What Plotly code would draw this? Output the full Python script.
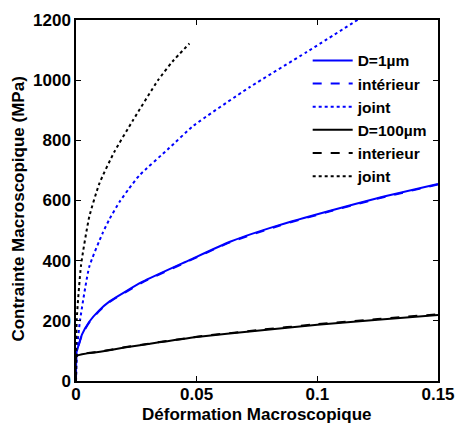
import plotly.graph_objects as go

# D = 1 micron, solid (global response)
strain_d1 = [0, 0.0002, 0.0007, 0.0025, 0.0055, 0.0095, 0.0138, 0.0276, 0.047, 0.0638, 0.0845, 0.1053, 0.126, 0.15]
stress_d1 = [0, 95, 109, 155, 197, 234, 264, 330, 402, 463, 519, 566, 610, 655]

# D = 1 micron, grain interior (hidden under the solid curve)
strain_d1_int = [0, 0.0002, 0.0007, 0.0025, 0.0055, 0.0095, 0.0138, 0.0276, 0.047, 0.0638, 0.0845, 0.1053, 0.126, 0.15]
stress_d1_int = [0, 93, 107, 153, 195, 232, 262, 328, 400, 461, 517, 564, 608, 653]

# D = 1 micron, grain boundary
strain_d1_jt = [0, 0.0005, 0.0017, 0.0055, 0.011, 0.014, 0.018, 0.022, 0.0262, 0.0387, 0.0486, 0.072, 0.0957, 0.118]
stress_d1_jt = [0, 114, 203, 380, 491, 540, 595, 640, 683, 775, 848, 977, 1094, 1207]

# D = 100 micron, solid
strain_d100 = [0, 0.0002, 0.01, 0.02, 0.03, 0.05, 0.075, 0.1, 0.125, 0.15]
stress_d100 = [0, 83, 97, 111, 123, 146, 167, 187, 204, 219]

# D = 100 micron, grain interior
strain_d100_int = [0, 0.0002, 0.01, 0.02, 0.03, 0.05, 0.075, 0.1, 0.125, 0.15]
stress_d100_int = [0, 84, 98, 112, 124, 147, 169, 189, 206, 222]

# D = 100 micron, grain boundary
strain_d100_jt = [0, 0.0003, 0.0021, 0.0055, 0.0097, 0.0159, 0.0235, 0.034, 0.04, 0.047]
stress_d100_jt = [0, 203, 386, 546, 657, 762, 865, 1000, 1062, 1122]

BLUE = '#0000ff'
BLACK = '#000000'
FONT = 'Liberation Sans, Arial, Helvetica, sans-serif'

series = [
    ('D=1µm', strain_d1, stress_d1, BLUE, 'solid'),
    ('intérieur', strain_d1_int, stress_d1_int, BLUE, 'dash'),
    ('joint', strain_d1_jt, stress_d1_jt, BLUE, 'dot'),
    ('D=100µm', strain_d100, stress_d100, BLACK, 'solid'),
    ('interieur', strain_d100_int, stress_d100_int, BLACK, 'dash'),
    ('joint', strain_d100_jt, stress_d100_jt, BLACK, 'dot'),
]

fig = go.Figure()
for name, x, y, color, dash in series:
    fig.add_trace(go.Scatter(
        x=x, y=y, mode='lines', name=name,
        line=dict(color=color, dash=dash, width=2, shape='spline', smoothing=0.5),
    ))

axis_common = dict(
    showline=True, linecolor='black', linewidth=1.5, mirror='ticks',
    ticks='inside', ticklen=5, tickwidth=1, tickcolor='black',
    showgrid=False, zeroline=False, automargin=False,
    tickfont=dict(family=FONT, size=17, color='black', weight='bold'),
)

title_font = dict(family=FONT, size=17, color='black', weight='bold')

fig.update_layout(
    width=456, height=423,
    margin=dict(l=76, r=18, t=20, b=42),
    paper_bgcolor='white', plot_bgcolor='white',
    font=dict(family=FONT, size=17, color='black', weight='bold'),
    xaxis=dict(
        range=[0, 0.15], tickvals=[0, 0.05, 0.1, 0.15],
        ticktext=['0', '0.05', '0.1', '0.15'],
        ticklabelstandoff=-3,
        **axis_common,
    ),
    yaxis=dict(
        range=[0, 1200], tickvals=[0, 200, 400, 600, 800, 1000, 1200],
        **axis_common,
    ),
    legend=dict(
        x=0.64, y=0.934, xanchor='left', yanchor='top',
        bgcolor='rgba(0,0,0,0)', borderwidth=0,
        font=dict(family=FONT, size=15.5, color='black', weight='bold'),
        itemwidth=40, tracegroupgap=0,
    ),
    annotations=[
        dict(text='Déformation Macroscopique', xref='paper', yref='paper',
             x=0.5, y=-0.092, xanchor='center', yanchor='middle',
             showarrow=False, font=title_font),
        dict(text='Contrainte Macroscopique (MPa)', xref='paper', yref='paper',
             x=-0.160, y=0.475, xanchor='center', yanchor='middle',
             textangle=-90, showarrow=False, font=title_font),
    ],
)

# the page's default body margin would push the 456x423 figure off the window
fig.write_html("out.html", config={'displayModeBar': False},
               post_script="document.body.style.margin = '0';")
